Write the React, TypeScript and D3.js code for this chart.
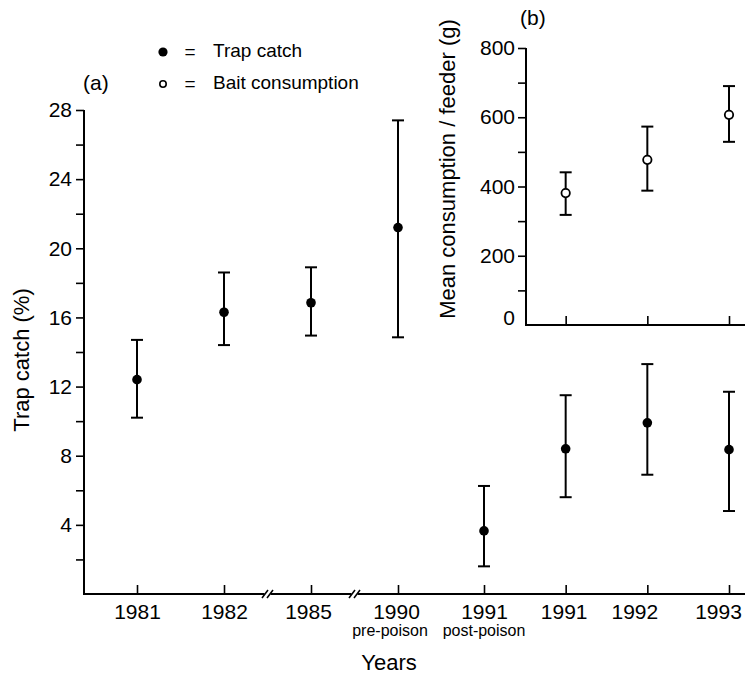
import React, { useEffect, useRef } from 'react';
import * as d3 from 'd3';

// trap catch (%) per sampling occasion
const years = ['1981', '1982', '1985', '1990', '1991', '1991', '1992', '1993'];
const subLabels = ['', '', '', 'pre-poison', 'post-poison', '', '', ''];
const trapMean = [12.4, 16.3, 16.85, 21.2, 3.65, 8.4, 9.9, 8.35];
const trapUpper = [14.7, 18.6, 18.9, 27.4, 6.25, 11.5, 13.3, 11.7];
const trapLower = [10.2, 14.4, 14.95, 14.85, 1.6, 5.6, 6.9, 4.8];

// bait consumption (g) per feeder, inset (b)
const baitIndex = [5, 6, 7];
const baitMean = [381, 477, 607];
const baitUpper = [441, 573, 690];
const baitLower = [318, 388, 529];

const trapMajor = [4, 8, 12, 16, 20, 24, 28];
const trapMinor = [2, 6, 10, 14, 18, 22, 26];
const baitMajor = [0, 200, 400, 600, 800];
const baitMinor = [100, 300, 500, 700];

const FONT = '"Liberation Sans", Arial, Helvetica, sans-serif';

export default function App() {
  const svgRef = useRef<SVGSVGElement>(null);

  useEffect(() => {
    if (!svgRef.current) return;
    const svg = d3.select(svgRef.current);
    svg.selectAll('*').remove();

    const W = 745, H = 674;
    svg.attr('width', W).attr('height', H);
    svg.append('rect').attr('width', W).attr('height', H).attr('fill', '#fff');

    // scales
    const x = d3.scaleLinear().domain([0, 3, 4, 7]).range([137, 398, 484, 729]);
    const y = d3.scaleLinear().domain([0, 28]).range([594, 110]);
    const yb = d3.scaleLinear().domain([0, 800]).range([325, 48]);

    const axisX0 = 84;
    const g = svg.append('g').attr('font-family', FONT);

    // ---- main y axis
    const yMinor = g.append('g').attr('transform', `translate(${axisX0},0)`)
      .call(d3.axisLeft(y).tickValues(trapMinor).tickSize(8).tickSizeOuter(0).tickFormat(() => ''));
    yMinor.select('.domain').remove();
    const yMaj = g.append('g').attr('transform', `translate(${axisX0},0)`)
      .call(d3.axisLeft(y).tickValues(trapMajor).tickSize(8).tickPadding(4).tickSizeOuter(0));
    yMaj.select('.domain').remove();
    yMaj.selectAll('text').attr('font-size', 21).attr('font-family', FONT).attr('fill', '#000');
    g.selectAll('.tick line').attr('stroke', '#000').attr('stroke-width', 1.6);

    g.append('line')
      .attr('x1', axisX0).attr('x2', axisX0)
      .attr('y1', y(28)).attr('y2', y(0) + 1)
      .attr('stroke', '#000').attr('stroke-width', 2);

    // ---- main x axis
    const labelNudge: Record<number, number> = { 2: -3, 3: -2, 5: -2, 6: -13, 7: -11 };
    const xAx = g.append('g').attr('transform', `translate(0,${y(0)})`)
      .call(d3.axisBottom(x).tickValues(d3.range(years.length)).tickSize(-9).tickPadding(10)
        .tickFormat((d) => years[d as number]));
    xAx.select('.domain').remove();
    xAx.selectAll('text')
      .attr('font-size', 21).attr('font-family', FONT).attr('fill', '#000')
      .attr('dx', (d: any) => labelNudge[d] || 0);
    xAx.selectAll('.tick line').attr('stroke', '#000').attr('stroke-width', 1.6);

    g.append('line')
      .attr('x1', axisX0 - 1).attr('x2', W)
      .attr('y1', y(0)).attr('y2', y(0))
      .attr('stroke', '#000').attr('stroke-width', 2);

    // axis breaks
    [1.5, 2.5].forEach((b) => {
      const bx = x(b);
      g.append('rect').attr('x', bx - 3).attr('y', y(0) - 3).attr('width', 6).attr('height', 6).attr('fill', '#fff');
      [-2.5, 2.5].forEach((o) => {
        g.append('line')
          .attr('x1', bx + o - 3).attr('y1', y(0) + 4)
          .attr('x2', bx + o + 3).attr('y2', y(0) - 4)
          .attr('stroke', '#000').attr('stroke-width', 1.5);
      });
    });

    // sub labels
    subLabels.forEach((s, i) => {
      if (!s) return;
      g.append('text')
        .attr('x', x(i) + (i === 3 ? -8 : 0))
        .attr('y', 636)
        .attr('text-anchor', 'middle')
        .attr('font-size', 16)
        .text(s);
    });

    // axis titles
    g.append('text')
      .attr('x', 389).attr('y', 670)
      .attr('text-anchor', 'middle').attr('font-size', 22)
      .text('Years');
    g.append('text')
      .attr('transform', `translate(29,360) rotate(-90)`)
      .attr('text-anchor', 'middle').attr('font-size', 22)
      .text('Trap catch (%)');
    g.append('text').attr('x', 83).attr('y', 90).attr('font-size', 21).text('(a)');

    // ---- trap catch error bars
    const cap = 6;
    const bars = g.append('g').attr('stroke', '#000').attr('stroke-width', 2);
    trapMean.forEach((m, i) => {
      const cx = x(i);
      bars.append('line').attr('x1', cx).attr('x2', cx).attr('y1', y(trapUpper[i])).attr('y2', y(trapLower[i]));
      bars.append('line').attr('x1', cx - cap).attr('x2', cx + cap).attr('y1', y(trapUpper[i])).attr('y2', y(trapUpper[i]));
      bars.append('line').attr('x1', cx - cap).attr('x2', cx + cap).attr('y1', y(trapLower[i])).attr('y2', y(trapLower[i]));
    });
    g.append('g').selectAll('circle').data(trapMean).enter().append('circle')
      .attr('cx', (d, i) => x(i)).attr('cy', (d) => y(d)).attr('r', 4.8).attr('fill', '#000');

    // ---- inset (b)
    const ixAxis = 526;
    const ybMinor = g.append('g').attr('transform', `translate(${ixAxis},0)`)
      .call(d3.axisLeft(yb).tickValues(baitMinor).tickSize(8).tickSizeOuter(0).tickFormat(() => ''));
    ybMinor.select('.domain').remove();
    const ybMaj = g.append('g').attr('transform', `translate(${ixAxis},0)`)
      .call(d3.axisLeft(yb).tickValues(baitMajor).tickSize(8).tickPadding(3).tickSizeOuter(0));
    ybMaj.select('.domain').remove();
    ybMaj.selectAll('text').attr('font-size', 21).attr('font-family', FONT).attr('fill', '#000');
    ybMaj.selectAll('.tick').filter((d) => d === 0).select('text').attr('y', -7);
    ybMaj.selectAll('.tick').filter((d) => d === 0).select('line').remove();
    ybMinor.selectAll('.tick line').attr('stroke', '#000').attr('stroke-width', 1.6);
    ybMaj.selectAll('.tick line').attr('stroke', '#000').attr('stroke-width', 1.6);

    g.append('line')
      .attr('x1', ixAxis).attr('x2', ixAxis)
      .attr('y1', yb(800)).attr('y2', yb(0) + 1)
      .attr('stroke', '#000').attr('stroke-width', 2);
    g.append('line')
      .attr('x1', ixAxis - 1).attr('x2', W)
      .attr('y1', yb(0)).attr('y2', yb(0))
      .attr('stroke', '#000').attr('stroke-width', 2);

    const ixAx = g.append('g').attr('transform', `translate(0,${yb(0)})`)
      .call(d3.axisBottom(x).tickValues(baitIndex).tickSize(-9).tickFormat(() => ''));
    ixAx.select('.domain').remove();
    ixAx.selectAll('.tick line').attr('stroke', '#000').attr('stroke-width', 1.6);

    const ibars = g.append('g').attr('stroke', '#000').attr('stroke-width', 2);
    baitMean.forEach((m, k) => {
      const cx = x(baitIndex[k]);
      ibars.append('line').attr('x1', cx).attr('x2', cx).attr('y1', yb(baitUpper[k])).attr('y2', yb(baitLower[k]));
      ibars.append('line').attr('x1', cx - cap).attr('x2', cx + cap).attr('y1', yb(baitUpper[k])).attr('y2', yb(baitUpper[k]));
      ibars.append('line').attr('x1', cx - cap).attr('x2', cx + cap).attr('y1', yb(baitLower[k])).attr('y2', yb(baitLower[k]));
    });
    g.append('g').selectAll('circle').data(baitMean).enter().append('circle')
      .attr('cx', (d, k) => x(baitIndex[k])).attr('cy', (d) => yb(d)).attr('r', 4.2)
      .attr('fill', '#fff').attr('stroke', '#000').attr('stroke-width', 1.8);

    g.append('text')
      .attr('transform', `translate(455,169) rotate(-90)`)
      .attr('text-anchor', 'middle').attr('font-size', 22)
      .text('Mean consumption / feeder (g)');
    g.append('text').attr('x', 520).attr('y', 25).attr('font-size', 21).text('(b)');

    // ---- legend
    const leg = g.append('g');
    leg.append('circle').attr('cx', 163).attr('cy', 52).attr('r', 4.6).attr('fill', '#000');
    leg.append('circle').attr('cx', 163).attr('cy', 84).attr('r', 3.2)
      .attr('fill', '#fff').attr('stroke', '#000').attr('stroke-width', 1.6);
    leg.append('text').attr('x', 190).attr('y', 58).attr('text-anchor', 'middle').attr('font-size', 19).text('=');
    leg.append('text').attr('x', 190).attr('y', 90).attr('text-anchor', 'middle').attr('font-size', 19).text('=');
    leg.append('text').attr('x', 213).attr('y', 57).attr('font-size', 19).text('Trap catch');
    leg.append('text').attr('x', 213).attr('y', 89).attr('font-size', 19).text('Bait consumption');
  }, []);

  return (
    <div style={{ position: 'absolute', left: 0, top: 0 }}>
      <svg ref={svgRef} style={{ display: 'block' }} />
    </div>
  );
}
